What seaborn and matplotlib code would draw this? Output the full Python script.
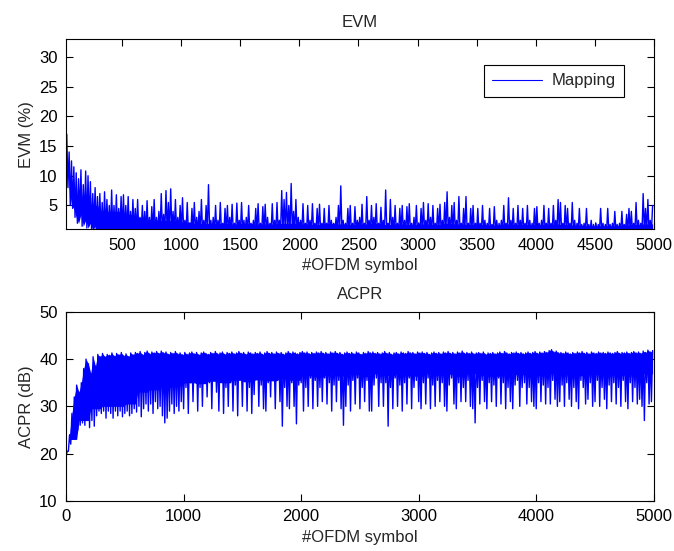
import numpy as np
import seaborn as sns
import matplotlib
matplotlib.use('Agg')
import matplotlib.pyplot as plt

# Both traces are read off the picture as the lowest and highest value
# inside each 20-symbol window (250 windows over 0..5000 symbols).

# ---- EVM (%) ----
evm_highs = [
    20, 17, 14, 12.5, 11.5, 10.5, 9.5, 11, 8.5, 10.8,
    10, 9, 7, 8, 6.5, 7, 5.5, 7.3, 6, 5,
    7.6, 5, 6.8, 4.5, 6.5, 6.8, 5, 6.5, 4, 6,
    4.5, 6, 3, 5, 4, 5.8, 3, 4.8, 6, 3,
    4, 7, 3.5, 7.5, 5.5, 7.8, 4, 6, 3, 5,
    6.3, 2.5, 5.5, 2, 4.5, 5.5, 3, 4, 6, 2.5,
    5, 8.5, 2.5, 3, 5, 2.5, 5.5, 2, 4.5, 5,
    3, 5.2, 2, 5.4, 2.5, 5.5, 2.5, 3, 5, 2,
    2.5, 4.5, 5.3, 2, 4.8, 5.2, 3, 2, 5.3, 2.5,
    5.5, 2.5, 7.5, 6, 7.2, 5, 8.7, 4, 6, 3,
    2.5, 5.3, 2, 5, 2.5, 5.3, 2, 4.5, 5.2, 2,
    4.5, 2, 5, 2.5, 2, 3, 5, 8.3, 2.5, 2,
    4.5, 5, 2, 4.8, 2.5, 3, 5.2, 2, 6.5, 2.5,
    5, 3, 5.3, 2, 4.7, 2.5, 7.6, 2, 6, 3,
    5, 2, 4.5, 5, 2.5, 4.8, 5.3, 2, 3, 5,
    2, 4.5, 5.5, 2.5, 5.3, 3, 5, 2, 4.5, 5.2,
    2.5, 5.5, 7.3, 3, 5, 5.5, 2.5, 6.5, 2, 4.5,
    6.5, 2, 4.5, 5, 2, 4.5, 2, 5, 2.5, 2,
    4.5, 1.8, 4.8, 2.5, 2, 2.5, 5, 2, 6.3, 2.5,
    4.5, 2, 5, 2.5, 4.5, 2, 5, 2.5, 2, 4.5,
    4.8, 2, 2.5, 5, 2, 4.5, 2, 5, 2.5, 6,
    5.5, 2, 5, 4.5, 2, 5.5, 2.5, 2, 4.5, 1.8,
    2, 4.5, 1.8, 2.5, 1.8, 2, 1.8, 4.5, 2, 1.8,
    4.5, 1.8, 2, 4, 1.8, 2, 4, 1.8, 3.5, 4.5,
    4, 2, 5.5, 2.5, 2, 7, 4.5, 6, 2.5, 5,
]
# after the first ~300 symbols the minimum sits below the axis floor
evm_lows = [17, 10, 8, 5, 4.5, 3, 2, 3.5, 1.5, 2.5, 1.2, 2, 0.8, 1.5] + [0.5] * 236
# top of the solidly filled part of the EVM trace, per 100 symbols
evm_core = [
    9, 6, 5, 4, 4, 3.5, 3, 2.5, 2.5, 2.5,
    2.2, 2, 2, 2, 1.9, 2, 1.9, 1.9, 2, 2,
    1.9, 1.8, 2, 1.9, 1.8, 1.9, 2, 1.8, 1.9, 1.8,
    1.9, 1.8, 2, 1.9, 1.8, 1.8, 1.7, 1.9, 1.8, 1.8,
    1.8, 1.9, 1.8, 1.7, 1.6, 1.6, 1.6, 1.7, 1.8, 1.9,
]

# ---- ACPR (dB) ----
acpr_highs = [
    20.5, 24, 28.5, 32, 34.5, 33, 35, 38, 40, 39,
    37, 40.5, 38.5, 41, 40.5, 41.2, 40.5, 41, 40.8, 41.3,
    40.6, 41.2, 40.9, 41.4, 40.7, 41.1, 40.5, 41.3, 40.9, 41.4,
    41.2, 41.6, 40.9, 41.4, 41.7, 41.1, 41.5, 41.3, 41.6, 41.2,
    41.7, 41.3, 41.5, 41.0, 41.4, 41.2, 41.6, 41.1, 41.3, 40.9,
    41.4, 41.0, 41.3, 41.5, 41.1, 41.4, 40.9, 41.3, 41.5, 41.2,
    41.0, 41.4, 41.2, 41.6, 41.1, 41.3, 41.5, 41.0, 41.4, 41.2,
    41.5, 41.1, 41.3, 41.6, 41.2, 41.4, 41.0, 41.5, 41.3, 41.1,
    41.4, 41.2, 41.5, 41.0, 41.3, 41.6, 41.2, 41.4, 41.1, 41.5,
    41.2, 41.4, 41.0, 41.3, 41.6, 41.2, 41.5, 41.3, 41.1, 41.4,
    41.6, 41.3, 41.5, 41.1, 41.4, 41.2, 41.5, 41.3, 41.6, 41.2,
    41.4, 41.1, 41.5, 41.3, 41.6, 41.2, 41.4, 41.0, 41.3, 41.5,
    41.2, 41.4, 41.1, 41.5, 41.3, 41.0, 41.4, 41.2, 41.6, 41.3,
    41.5, 41.2, 41.4, 41.1, 41.3, 41.6, 41.2, 41.4, 41.0, 41.3,
    41.4, 41.1, 41.5, 41.3, 41.2, 41.6, 41.3, 41.4, 41.1, 41.5,
    41.3, 41.5, 41.2, 41.4, 41.0, 41.3, 41.5, 41.2, 41.4, 41.1,
    41.5, 41.3, 41.6, 41.2, 41.4, 41.1, 41.5, 41.3, 41.7, 41.2,
    41.4, 41.2, 41.5, 41.1, 41.3, 41.4, 41.2, 41.5, 41.0, 41.3,
    41.2, 41.4, 41.1, 41.3, 41.5, 41.2, 41.6, 41.3, 41.1, 41.4,
    41.3, 41.5, 41.2, 41.4, 41.1, 41.3, 41.5, 41.2, 41.4, 41.6,
    41.2, 41.5, 41.3, 41.6, 41.4, 41.8, 42.0, 41.5, 41.7, 41.3,
    41.4, 41.2, 41.5, 41.3, 41.1, 41.4, 41.2, 41.5, 41.3, 41.6,
    41.2, 41.4, 41.1, 41.5, 41.3, 41.2, 41.5, 41.3, 41.4, 41.2,
    41.5, 41.3, 41.2, 41.4, 41.6, 41.2, 41.4, 41.3, 41.5, 41.2,
    41.4, 41.6, 41.3, 41.5, 41.2, 41.7, 41.4, 41.9, 41.5, 41.8,
]
acpr_lows = [
    19.5, 20.5, 22, 23, 24, 25, 26, 26.5, 26, 27,
    25.5, 27, 25.8, 28, 29, 28.5, 29, 27.5, 29, 28.5,
    27.5, 29, 28, 29, 27.8, 28.5, 29, 28, 28.5, 29.5,
    28.8, 30, 27.8, 29.5, 30.5, 29, 30.5, 28.5, 31, 29.5,
    30, 28, 26.5, 27.5, 29, 30.5, 28.5, 30, 29, 31,
    29.5, 34, 28.5, 35, 31, 35.5, 29, 34, 30, 36,
    32, 35, 29.5, 36, 33, 29, 35.5, 28.5, 34, 30,
    35, 29, 34.5, 28, 36, 30, 35.5, 29, 34, 28.5,
    32.5, 36, 30, 34.5, 29.5, 29, 35, 32, 36, 29.5,
    35.5, 31, 25.8, 34, 30, 29.5, 35, 30, 26.3, 34.5,
    35, 29, 34, 30, 36, 29.5, 35.5, 30, 34, 31,
    36, 30.5, 35, 29, 34.5, 31, 35.5, 29.5, 26, 30,
    34.5, 29, 35.5, 30.5, 36, 29.5, 34, 31, 35.5, 29,
    29, 34.5, 36, 30, 35, 30, 35, 25.8, 34, 29.5,
    36, 30, 34.5, 29, 35, 30.5, 36, 29.5, 34, 35.5,
    31, 29.5, 35, 30.5, 36, 29.5, 34.5, 30, 35.5, 31,
    35, 30, 29, 34.5, 36, 30.5, 29.5, 35, 31, 34,
    31, 35.5, 30, 29.5, 26.5, 34, 30.5, 35.5, 31, 29.5,
    35, 31, 34.5, 30, 36, 30.5, 35, 29.5, 34, 31,
    29.5, 34.5, 35.5, 30, 34, 35, 30.5, 34, 31, 30,
    29.5, 35, 31, 34.5, 30.5, 34, 30.5, 35.5, 31.5, 30,
    31, 34.5, 30, 35, 31.5, 30, 34, 31, 29.5, 35.5,
    34, 30.5, 31.5, 35, 30, 31, 35.5, 30, 34, 31.5,
    29.5, 34.5, 31, 35, 30.5, 34, 30, 35.5, 31, 29.5,
    35, 31, 34, 30.5, 31.5, 30, 27, 35, 30.5, 31,
]
# lower edge of the solidly filled ACPR band, per 100 symbols
acpr_core = [
    23, 27, 29.5, 30, 30, 30.5, 33, 33.5, 34, 34.5,
    35, 34.8, 35.3, 35, 35.5, 35.2, 35.6, 35.4, 35.8, 35.5,
    36.5, 36.2, 36.8, 36.4, 36.7, 36.3, 36.9, 36.5, 36.8, 36.4,
    37, 36.6, 36.8, 36.4, 36.9, 36.6, 36.4, 37, 36.7, 36.9,
    36.6, 37, 36.8, 36.5, 36.9, 36.7, 37, 36.6, 36.8, 36.9,
]

# each window gives its low then its high, so the trace zigzags like the raw signal
win_start = np.arange(len(acpr_lows)) * 20
win_mid = win_start + 10
trace_x = np.column_stack([win_start, win_mid]).ravel()
evm_y = np.column_stack([evm_lows, evm_highs]).ravel()
acpr_y = np.column_stack([acpr_lows, acpr_highs]).ravel()
evm_core_w = np.repeat(evm_core, 5)
acpr_core_w = np.repeat(acpr_core, 5)

sns.set_style('white')
plt.rcParams['font.family'] = ['Liberation Sans', 'DejaVu Sans']
plt.rcParams['font.size'] = 12

fig = plt.figure(figsize=(6.74, 5.51), dpi=100)
ax1 = fig.add_axes([0.098, 0.584, 0.872, 0.345])
ax2 = fig.add_axes([0.098, 0.091, 0.872, 0.343])

# dense part of each trace, then the trace itself on top
ax1.fill_between(win_mid, evm_lows, evm_core_w, where=evm_core_w > np.array(evm_lows),
                 color='blue', lw=0)
sns.lineplot(x=trace_x, y=evm_y, ax=ax1, color='blue', lw=1.0, sort=False,
             estimator=None, label='Mapping')

ax2.fill_between(win_mid, acpr_core_w, acpr_highs, where=np.array(acpr_highs) > acpr_core_w,
                 color='blue', lw=0)
sns.lineplot(x=trace_x, y=acpr_y, ax=ax2, color='blue', lw=1.0, sort=False,
             estimator=None)

ax1.set_xlim(24, 5000)
ax1.set_ylim(1, 33)
ax1.set_xticks(range(500, 5001, 500))
ax1.set_yticks(range(5, 31, 5))
ax1.set_title('EVM', fontsize=12, pad=9)
ax1.set_xlabel('#OFDM symbol', labelpad=4)
ax1.set_ylabel('EVM (%)', labelpad=4)
leg = ax1.legend(loc='upper right', bbox_to_anchor=(0.95, 0.863), borderaxespad=0,
                 fancybox=False, edgecolor='black', framealpha=1, handlelength=3.0,
                 borderpad=0.5, handletextpad=0.6)
leg.get_frame().set_linewidth(0.8)
leg.get_lines()[0].set_linewidth(0.8)

ax2.set_xlim(0, 5000)
ax2.set_ylim(10, 50)
ax2.set_xticks(range(0, 5001, 1000))
ax2.set_yticks(range(10, 51, 10))
ax2.set_title('ACPR', fontsize=12, pad=9)
ax2.set_xlabel('#OFDM symbol', labelpad=4)
ax2.set_ylabel('ACPR (dB)', labelpad=4)

for ax in (ax1, ax2):
    for s in ax.spines.values():
        s.set_color('black')
        s.set_linewidth(0.8)
    ax.tick_params(direction='in', length=5, width=0.8, top=True, right=True,
                   bottom=True, left=True, labelsize=12, colors='black', pad=6)

fig.savefig('out.png', dpi=100)
